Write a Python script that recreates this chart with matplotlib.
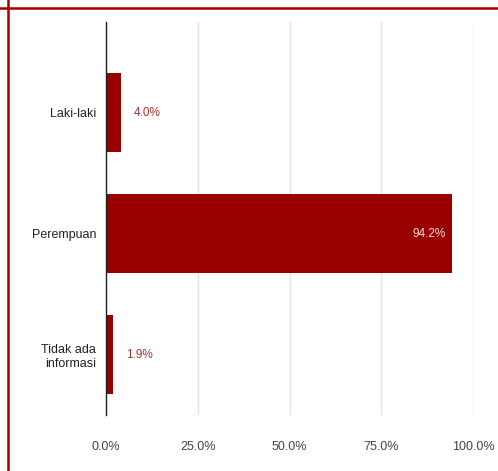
import matplotlib
matplotlib.use("Agg")
import matplotlib.pyplot as plt
from matplotlib.lines import Line2D

categories = ["Laki-laki", "Perempuan", "Tidak ada\ninformasi"]
values = [4.0, 94.2, 1.9]
xticks = [0, 25, 50, 75, 100]
xtick_labels = ["0.0%", "25.0%", "50.0%", "75.0%", "100.0%"]

plt.rcParams['font.family'] = ['Liberation Sans', 'DejaVu Sans']

W, H = 498, 471
fig = plt.figure(figsize=(W/100, H/100), dpi=100)
ax = fig.add_axes([106/W, (H-415)/H, (473-106)/W, (415-22)/H])

bar_color = "#990000"
ypos = list(range(len(categories)))
ax.barh(ypos, values, height=0.65, color=bar_color, zorder=3)
ax.set_ylim(2.5, -0.75)
ax.set_xlim(0, 100)

for y, v in zip(ypos, values):
    label = f"{v:.1f}%"
    if v > 50:
        ax.text(v - 1.6, y, label, ha="right", va="center", color="#f2dede", fontsize=8.5, zorder=4)
    else:
        ax.text(v + 3.5, y, label, ha="left", va="center", color="#a83232", fontsize=8.5, zorder=4)

ax.set_yticks(ypos)
ax.set_yticklabels(categories, fontsize=9, color="#222222", ha="right")
ax.set_xticks(xticks)
ax.set_xticklabels(xtick_labels, fontsize=9, color="#444444")
ax.tick_params(axis="both", length=0)
ax.tick_params(axis="x", pad=19)
ax.tick_params(axis="y", pad=7)
ax.grid(axis="x", color="#e2e2e2", linewidth=1, zorder=0)
for s in ["top", "right", "bottom"]:
    ax.spines[s].set_visible(False)
ax.spines["left"].set_color("#222222")
ax.spines["left"].set_linewidth(1)
ax.spines["left"].set_zorder(5)

# decorative red frame lines
fig.add_artist(Line2D([0, 1], [1 - 7.5/H, 1 - 7.5/H], color="#a50000", linewidth=1.8, transform=fig.transFigure))
fig.add_artist(Line2D([7.5/W, 7.5/W], [0, 1], color="#a50000", linewidth=1.8, transform=fig.transFigure))

fig.savefig("out.png", dpi=100)
